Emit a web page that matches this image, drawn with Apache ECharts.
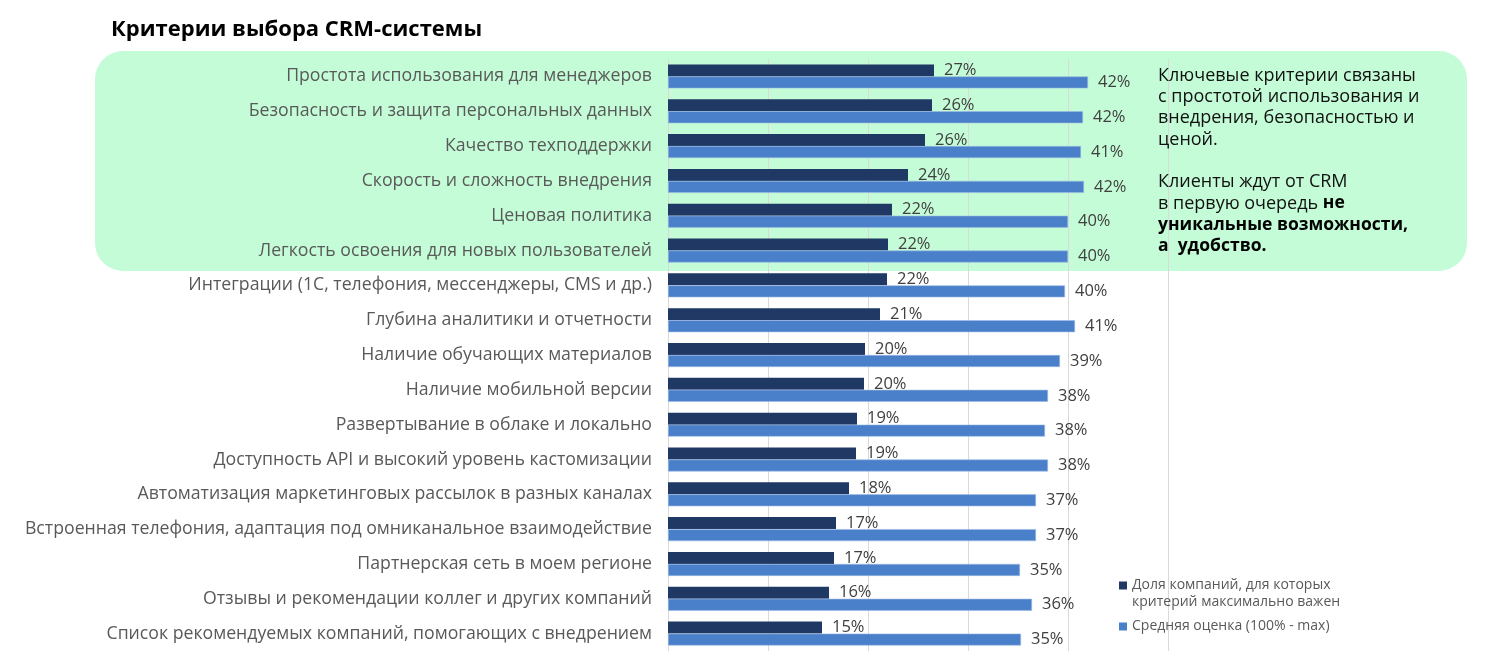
<!DOCTYPE html>
<html>
<head>
<meta charset="utf-8">
<script src="https://cdn.jsdelivr.net/npm/echarts@6/dist/echarts.min.js"></script>
<style>
html,body{margin:0;padding:0;background:#fff;}
#chart{width:1502px;height:658px;}
</style>
</head>
<body>
<div id="chart"></div>
<script>
var categories = [
  'Простота использования для менеджеров',
  'Безопасность и защита персональных данных',
  'Качество техподдержки',
  'Скорость и сложность внедрения',
  'Ценовая политика',
  'Легкость освоения для новых пользователей',
  'Интеграции (1С, телефония, мессенджеры, CMS и др.)',
  'Глубина аналитики и отчетности',
  'Наличие обучающих материалов',
  'Наличие мобильной версии',
  'Развертывание в облаке и локально',
  'Доступность API и высокий уровень кастомизации',
  'Автоматизация маркетинговых рассылок в разных каналах',
  'Встроенная телефония, адаптация под омниканальное взаимодействие',
  'Партнерская сеть в моем регионе',
  'Отзывы и рекомендации коллег и других компаний',
  'Список рекомендуемых компаний, помогающих с внедрением'
];
var shareMaxImportant = [26.6, 26.4, 25.7, 24.0, 22.4, 22.0, 21.9, 21.2, 19.7, 19.6, 18.9, 18.8, 18.1, 16.8, 16.6, 16.1, 15.4];
var averageScore = [42.0, 41.5, 41.3, 41.6, 40.0, 40.0, 39.7, 40.7, 39.2, 38.0, 37.7, 38.0, 36.8, 36.8, 35.2, 36.4, 35.3];
var seriesNames = ['Доля компаний, для которых\nкритерий максимально важен', 'Средняя оценка (100% - max)'];
var xTicks = [0, 10, 20, 30, 40, 50];

var FONT = 'Open Sans';
var DARK = '#203864', BLUE = '#4a80c9';
var chart = echarts.init(document.getElementById('chart'));
var labelStyle = {
  show: true, position: 'right', distance: 10,
  fontFamily: FONT, fontSize: 16.5, color: '#404040',
  formatter: function (p) { return Math.round(p.value) + '%'; }
};
chart.setOption({
  animation: false,
  title: {
    text: 'Критерии выбора CRM-системы',
    left: 106, top: 14,
    textStyle: { fontFamily: FONT, fontSize: 22, fontWeight: 'bold', color: '#000' }
  },
  graphic: [
    {
      type: 'rect', z: -10, silent: true,
      shape: { x: 95, y: 51, width: 1372, height: 220, r: 28 },
      style: { fill: '#c4fcd7' }
    },
    {
      type: 'text', z: 10, left: 1158, top: 65,
      style: {
        text: 'Ключевые критерии связаны\nс простотой использования и\nвнедрения, безопасностью и\nценой.\n\nКлиенты ждут от CRM\nв первую очередь {b|не}\n{b|уникальные возможности,}\n{b|а  удобство.}',
        fontFamily: FONT, fontSize: 18, lineHeight: 21.3, fill: '#111',
        rich: { b: { fontFamily: FONT, fontSize: 17.5, fontWeight: 'bold', lineHeight: 21.3, fill: '#000' } }
      }
    }
  ],
  legend: {
    orient: 'vertical', left: 1114, top: 572,
    itemWidth: 8, itemHeight: 25, itemGap: 3,
    data: [
      { name: seriesNames[0], icon: 'path://M0 0h8v8H0z M0 25L0.01 25', itemStyle: { color: DARK, borderWidth: 0 } },
      { name: seriesNames[1], icon: 'path://M0 0L0.01 0 M0 8.5h8v8H0z M0 25L0.01 25', itemStyle: { color: BLUE, borderWidth: 0 } }
    ],
    textStyle: { fontFamily: FONT, fontSize: 14, lineHeight: 17, color: '#595959' }
  },
  grid: { left: 668, top: 59, width: 500, height: 592, containLabel: false },
  xAxis: {
    type: 'value', min: xTicks[0], max: xTicks[xTicks.length - 1], interval: 10,
    axisLabel: { show: false }, axisLine: { show: false }, axisTick: { show: false },
    splitLine: { show: true, lineStyle: { color: '#d9d9d9', width: 1 } }
  },
  yAxis: {
    type: 'category', data: categories, inverse: true,
    axisLine: { show: false }, axisTick: { show: false },
    axisLabel: { fontFamily: FONT, fontSize: 17.7, color: '#595959', margin: 16 }
  },
  series: [
    {
      name: seriesNames[0], type: 'bar', data: shareMaxImportant,
      barWidth: 12, barGap: '0%',
      itemStyle: { color: DARK },
      label: labelStyle
    },
    {
      name: seriesNames[1], type: 'bar', data: averageScore,
      barWidth: 12, barGap: '0%',
      itemStyle: { color: BLUE, borderColor: '#9dbbe6', borderWidth: 0.6 },
      label: labelStyle
    }
  ]
});
</script>
</body>
</html>
